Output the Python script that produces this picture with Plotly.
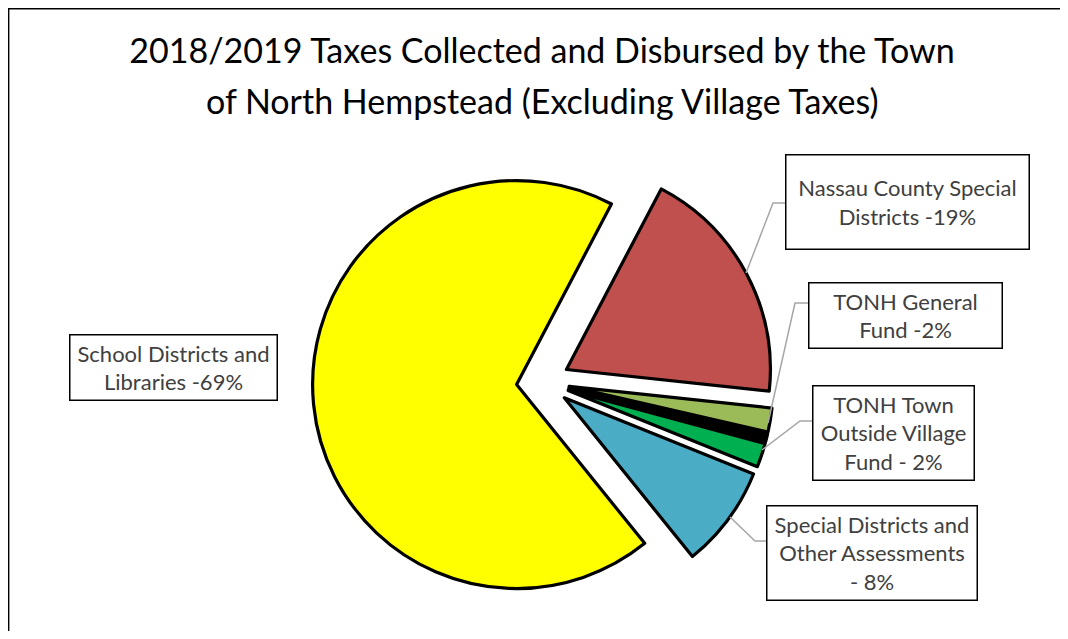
import plotly.graph_objects as go

# page is 1068x639; the figure sits 8px in from the top-left (body margin)
PAGE_W, PAGE_H, OFF = 1068, 639, 8
W, H = PAGE_W - 2 * OFF, PAGE_H - 2 * OFF

# ---- data (clockwise from the top-right edge of the yellow slice) ----
categories = [
    "Nassau County Special Districts",
    "TONH General Fund",
    "Other",
    "TONH Town Outside Village Fund",
    "Special Districts and Other Assessments",
    "School Districts and Libraries",
]
values = [19.0, 1.9, 0.6, 1.9, 8.1, 68.5]
colors = ["#C0504D", "#9BBB59", "#000000", "#00B050", "#4BACC6", "#FFFF00"]
label_texts = [
    "Nassau County Special<br>Districts -19%",
    "TONH General<br>Fund -2%",
    None,
    "TONH Town<br>Outside Village<br>Fund - 2%",
    "Special Districts and<br>Other Assessments<br>- 8%",
    "School Districts and<br>Libraries -69%",
]
title_lines = [
    "2018/2019 Taxes Collected and Disbursed by the Town",
    "of North Hempstead (Excluding Village Taxes)",
]


def px(x):
    """page pixel x -> paper"""
    return (x - OFF) / W


def py(y):
    """page pixel y -> paper"""
    return 1 - (y - OFF) / H


# pie geometry (page pixels)
cx, cy, r, pull = 543, 382, 204, 0.13
half = r * (1 + pull)

fig = go.Figure(
    go.Pie(
        labels=categories,
        values=values,
        sort=False,
        direction="clockwise",
        rotation=27.7,
        pull=[pull] * len(values),
        marker=dict(colors=colors, line=dict(color="#000000", width=3.2)),
        textinfo="none",
        hoverinfo="label+percent",
        domain=dict(x=[px(cx - half), px(cx + half)], y=[py(cy + half), py(cy - half)]),
        showlegend=False,
    )
)

# label boxes: (center x, center y, width, height) in page pixels
boxes = [
    (907, 201.5, 244, 95),
    (905, 315, 194, 66),
    None,
    (893, 432.5, 162, 95),
    (871.5, 552.5, 211, 95),
    (173, 367, 208, 66),
]
leaders = [
    [(746, 273), (773, 203), (785, 203)],
    [(768, 423), (795, 303), (808, 303)],
    None,
    [(762, 450), (800, 421), (812, 421)],
    [(730, 517), (755, 541), (766, 541)],
    None,
]

annotations = []
shapes = []
for txt, box, lead in zip(label_texts, boxes, leaders):
    if txt is None:
        continue
    bx, by, bw, bh = box
    annotations.append(
        dict(
            text=txt,
            x=px(bx),
            y=py(by),
            xref="paper",
            yref="paper",
            xanchor="center",
            yanchor="middle",
            showarrow=False,
            width=bw - 2,
            height=bh - 2,
            align="center",
            valign="middle",
            bordercolor="#000000",
            borderwidth=1.5,
            borderpad=0,
            bgcolor="#FFFFFF",
            font=dict(family="Lato", size=22, color="#404040"),
        )
    )
    if lead:
        path = "M " + " L ".join(f"{px(x)},{py(y)}" for x, y in lead)
        shapes.append(
            dict(type="path", path=path, xref="paper", yref="paper",
                 line=dict(color="#A6A6A6", width=1.5))
        )

# second title line
annotations.append(
    dict(
        text=title_lines[1],
        x=px(542),
        y=py(100),
        xref="paper",
        yref="paper",
        xanchor="center",
        yanchor="middle",
        showarrow=False,
        font=dict(family="Lato", size=34, color="#000000"),
    )
)

# chart frame: only its left and top edges fall inside the page
shapes.append(
    dict(type="line", xref="paper", yref="paper",
         x0=px(8.3), x1=px(8.3), y0=py(PAGE_H + 20), y1=py(7.2),
         line=dict(color="#000000", width=2.2), layer="below")
)
shapes.append(
    dict(type="line", xref="paper", yref="paper",
         x0=px(7.2), x1=px(PAGE_W + 20), y0=py(8.3), y1=py(8.3),
         line=dict(color="#000000", width=2.2), layer="below")
)

fig.update_layout(
    width=W,
    height=H,
    margin=dict(l=0, r=0, t=0, b=0),
    paper_bgcolor="#FFFFFF",
    plot_bgcolor="#FFFFFF",
    title=dict(
        text=title_lines[0],
        x=px(542),
        xanchor="center",
        y=py(51),
        yanchor="middle",
        font=dict(family="Lato", size=34, color="#000000"),
    ),
    annotations=annotations,
    shapes=shapes,
)

fig.write_html("out.html")
